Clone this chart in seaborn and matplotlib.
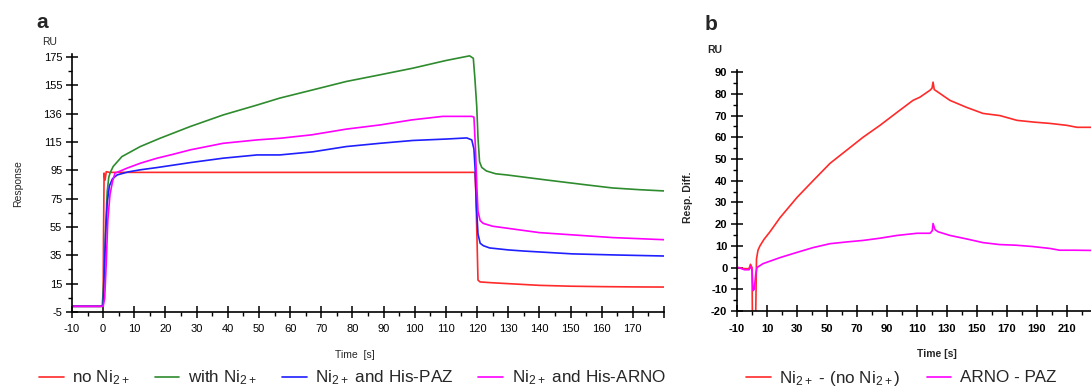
import numpy as np
import pandas as pd
import matplotlib
matplotlib.use("Agg")
import matplotlib.pyplot as plt
from matplotlib.ticker import MultipleLocator, FixedLocator
import seaborn as sns

# ---------------- Panel a data (time in s, response in RU) ----------------
t_no_ni = [-10, -1, -0.5, 0, 0.1, 0.3, 0.6, 1, 2, 5, 20, 40, 60, 80, 100, 119,
           119.3, 119.6, 120.0, 120.3, 121, 125, 130, 140, 150, 160, 170, 180]
v_no_ni = [-1, -1, -1, -1, 45, 93, 88, 94, 93.5, 93.5, 93.5, 93.5, 93.5, 93.5, 93.5, 93.5,
           93.5, 80, 45, 17.5, 16.2, 15.6, 15.0, 13.8, 13.2, 12.9, 12.7, 12.6]

t_with_ni = [-10, -1, -0.3, 0.3, 0.8, 1.3, 1.8, 2.2, 3.2, 6, 11.9, 18.3, 27.9, 38.5, 49.4,
             56.7, 67.3, 78, 88.8, 99.4, 110, 117.6, 118.8, 119.3, 119.9, 120.3, 120.8,
             121.5, 123, 126, 129.5, 142, 155, 163.5, 172, 180]
v_with_ni = [-1, -1, -1, 20, 55, 80, 90, 93, 97.6, 104.6, 111.7, 117.6, 125.8, 134, 141,
             145.9, 151.7, 157.6, 162.3, 167, 172.4, 175.7, 174, 160, 140, 118, 101,
             97, 94.5, 92.5, 91.7, 88.2, 84.7, 82.5, 81.3, 80.4]

t_his_paz = [-10, -1, 0, 0.3, 0.8, 1.3, 2, 3, 4.5, 8, 11.9, 17.3, 28, 38.5, 49.4, 56.7,
             67.3, 78, 88.8, 99.4, 110, 116.7, 118.3, 119, 119.4, 119.8, 120.3, 121,
             122, 124, 130, 135, 150.6, 165, 180]
v_his_paz = [-1, -1, -0.5, 20, 50, 72, 84, 89, 91.7, 93.8, 95.3, 96.9, 100.4, 103.5, 105.8,
             105.8, 108, 111.7, 114, 116, 117, 117.8, 116.4, 110, 95, 70, 50, 43.5,
             41.8, 40.2, 38.8, 38, 36, 35.2, 34.5]

t_his_arno = [-10, -1, 0, 0.5, 1, 1.5, 2.2, 3, 3.8, 5, 7.7, 12, 17.3, 22, 28, 38.5, 49.4,
              57, 67, 78, 89, 99, 109, 118.3, 119, 119.5, 119.9, 120.3, 121, 122, 125,
              130, 140, 150, 163.5, 180]
v_his_arno = [-1, -1, -1, 5, 30, 60, 78, 87, 93, 94, 96.5, 100, 103.5, 106, 109.4, 114,
              116.4, 117.6, 120, 124, 127, 130.5, 133, 133, 132.5, 110, 85, 66, 59.5,
              57.5, 55.5, 54, 51, 49.5, 47.5, 46]

labels_a = ["no Ni$_{2+}$", "with Ni$_{2+}$", "Ni$_{2+}$ and His-PAZ", "Ni$_{2+}$ and His-ARNO"]
colors_a = ["#ff2a2a", "#2e8b2e", "#1f1fff", "#ff00ff"]

xticks_a = list(range(-10, 190, 10))
xticklabels_a = [str(v) for v in range(-10, 180, 10)] + [""]
yticks_a = [-5, 15, 35, 55, 75, 95, 115, 135, 155, 175]
yticklabels_a = ["-5", "15", "35", "55", "75", "95", "115", "136", "155", "175"]

# ---------------- Panel b data ----------------
t_diff_ni = [-9, -5, -2, -1, 0, 0.3, 1.5, 2.5, 3, 4, 5.3, 8, 12, 18.7, 30, 40.7, 52, 63, 74,
             85.3, 96.7, 107.3, 112, 118.7, 120, 120.7, 121.5, 124, 132, 143, 154, 165.3,
             176.7, 188, 198.7, 210, 216.7, 226]
v_diff_ni = [0, -0.5, -0.5, 1.5, 0, -25, -25, -20, 4, 8, 10, 13, 16.5, 23, 32.3, 40, 48,
             54, 60, 65.5, 71.5, 77, 78.5, 81.7, 82.6, 85.4, 82, 80.8, 77, 73.8, 71, 70,
             67.8, 67, 66.4, 65.5, 64.6, 64.6]

t_arno_paz = [-9, -5, -2, -1, 0, 0.7, 1.5, 2.5, 3.3, 7.3, 18.7, 30, 40.7, 52, 63, 74, 85,
              96.7, 110, 118.7, 120.2, 120.7, 122, 124, 132, 143, 154, 165, 176, 187,
              198.7, 205, 215, 226]
v_arno_paz = [0, -1, -1, 0.5, -1, -10.6, -10, -3, 0, 1.8, 4.6, 7, 9.2, 11, 11.8, 12.5,
              13.5, 14.8, 15.8, 15.8, 17, 20.3, 17.5, 16.5, 14.8, 13.2, 11.5, 10.6, 10.3,
              9.7, 8.8, 8, 8, 7.9]

labels_b = ["Ni$_{2+}$ - (no Ni$_{2+}$)", "ARNO - PAZ"]
colors_b = ["#ff2a2a", "#ff00ff"]

yticks_b = list(range(-20, 100, 10))
xticks_b = list(range(-10, 230, 20))

# ---------------- Styling ----------------
sns.set_style("ticks")
plt.rcParams["font.family"] = ["Liberation Sans", "DejaVu Sans"]
plt.rcParams["mathtext.default"] = "regular"
plt.rcParams["axes.unicode_minus"] = False

W, H = 1091, 387
fig = plt.figure(figsize=(W / 100, H / 100), dpi=100)

def fx(px):
    return px / W

def fy(py):
    return 1 - py / H

ax_a = fig.add_axes([fx(72), fy(312), fx(664) - fx(72), fy(54) - fy(312)])
ax_b = fig.add_axes([fx(737), fy(311), fx(1091) - fx(737), fy(70) - fy(311)])

series_a = [(t_no_ni, v_no_ni), (t_with_ni, v_with_ni), (t_his_paz, v_his_paz), (t_his_arno, v_his_arno)]
for (t, v), lab, col in zip(series_a, labels_a, colors_a):
    df = pd.DataFrame({"Time": t, "Response": v})
    sns.lineplot(data=df, x="Time", y="Response", ax=ax_a, color=col, lw=1.2,
                 label=lab, sort=False, legend=False)

series_b = [(t_diff_ni, v_diff_ni), (t_arno_paz, v_arno_paz)]
for (t, v), lab, col in zip(series_b, labels_b, colors_b):
    df = pd.DataFrame({"Time": t, "Diff": v})
    sns.lineplot(data=df, x="Time", y="Diff", ax=ax_b, color=col, lw=1.2,
                 label=lab, sort=False, legend=False)

for ax in (ax_a, ax_b):
    for s in ("top", "right"):
        ax.spines[s].set_visible(False)
    for s in ("left", "bottom"):
        ax.spines[s].set_color("black")
        ax.spines[s].set_linewidth(1.2)
    ax.set_xlabel("")
    ax.set_ylabel("")
    ax.tick_params(which="both", bottom=True, left=True, top=False, right=False)
    ax.tick_params(which="major", direction="inout", length=8, width=1.1, colors="black",
                   labelsize=8)
    ax.tick_params(which="minor", direction="out", length=3, width=1.0, colors="black")
    ax.tick_params(axis="x", which="major", pad=5)
    ax.tick_params(axis="y", which="major", pad=3)

ax_a.set_xlim(-10, 180)
ax_a.set_ylim(-5, 177)
ax_a.set_xticks(xticks_a)
ax_a.set_xticklabels(xticklabels_a)
ax_a.set_yticks(yticks_a)
ax_a.set_yticklabels(yticklabels_a)
ax_a.xaxis.set_minor_locator(MultipleLocator(5))
ax_a.yaxis.set_minor_locator(FixedLocator([y + 10 for y in yticks_a[:-1]]))

ax_b.set_xlim(-10, 226)
ax_b.set_ylim(-20, 91)
ax_b.set_xticks(xticks_b)
ax_b.set_yticks(yticks_b)
ax_b.xaxis.set_minor_locator(FixedLocator(list(range(0, 230, 20))))
ax_b.yaxis.set_minor_locator(FixedLocator([y + 5 for y in yticks_b[:-1]]))
for lbl in ax_b.get_xticklabels() + ax_b.get_yticklabels():
    lbl.set_fontweight("bold")

# texts
fig.text(fx(42), fy(23), "a", fontsize=15, fontweight="bold", ha="center", va="center")
fig.text(fx(711), fy(25), "b", fontsize=15, fontweight="bold", ha="center", va="center")
fig.text(fx(50), fy(42), "RU", fontsize=7.5, ha="center", va="center")
fig.text(fx(715), fy(50), "RU", fontsize=7.5, fontweight="bold", ha="center", va="center")
fig.text(fx(18), fy(184), "Response", fontsize=7.5, rotation=90, ha="center", va="center")
fig.text(fx(688), fy(197), "Resp. Diff.", fontsize=7.5, fontweight="bold", rotation=90,
         ha="center", va="center")
fig.text(fx(355), fy(355), "Time  [s]", fontsize=7.5, ha="center", va="center")
fig.text(fx(937), fy(354), "Time [s]", fontsize=7.5, fontweight="bold", ha="center", va="center")

# legends
h_a, l_a = ax_a.get_legend_handles_labels()
fig.legend(h_a, l_a, loc="center left", bbox_to_anchor=(fx(39), fy(378)), ncol=4,
           frameon=False, fontsize=12.3, handlelength=1.45, handletextpad=0.5,
           columnspacing=1.45, borderaxespad=0, borderpad=0)
h_b, l_b = ax_b.get_legend_handles_labels()
fig.legend(h_b, l_b, loc="center left", bbox_to_anchor=(fx(746), fy(378)), ncol=2,
           frameon=False, fontsize=12.3, handlelength=1.45, handletextpad=0.5,
           columnspacing=1.5, borderaxespad=0, borderpad=0)

fig.savefig("out.png", dpi=100)
